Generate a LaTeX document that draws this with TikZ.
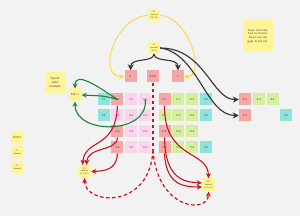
\documentclass[tikz,border=0pt]{standalone}
\usepackage{tikz}
\usetikzlibrary{arrows.meta, positioning}
\definecolor{bggray}{RGB}{242, 242, 242}
\definecolor{cellred}{RGB}{246, 166, 166}
\definecolor{cellpink}{RGB}{252, 212, 238}
\definecolor{cellgreen}{RGB}{214, 238, 160}
\definecolor{cellcyan}{RGB}{140, 228, 220}
\definecolor{noteyellow}{RGB}{255, 244, 150}
\definecolor{linered}{RGB}{200, 20, 30}
\definecolor{linegreen}{RGB}{30, 130, 60}
\definecolor{lineyellow}{RGB}{250, 215, 70}
\definecolor{linedark}{RGB}{50, 50, 50}

\begin{document}
\begin{tikzpicture}[
    x=1pt, y=-1pt,
    cell/.style={rectangle, minimum width=12pt, minimum height=12pt, inner sep=0pt, font=\sffamily\fontsize{3}{3.6}\selectfont, text=black!75},
    redcell/.style={cell, fill=cellred},
    pinkcell/.style={cell, fill=cellpink},
    greencell/.style={cell, fill=cellgreen},
    cyancell/.style={cell, fill=cellcyan},
    note/.style={rectangle, fill=noteyellow, minimum width=12pt, minimum height=12pt, inner sep=0.5pt, align=center, font=\sffamily\fontsize{2.2}{2.6}\selectfont, text=black!75},
    yellowarrow/.style={-{Stealth[length=5pt, width=5pt]}, line width=0.9pt, color=lineyellow},
    darkarrow/.style={-{Stealth[length=6pt, width=6pt]}, line width=1.1pt, color=linedark},
    greenarrow/.style={-{Stealth[length=5pt, width=5pt]}, line width=1.1pt, color=linegreen},
    redarrow/.style={-{Stealth[length=5pt, width=5pt]}, line width=1.1pt, color=linered},
    reddash/.style={line width=1.2pt, color=linered, dash pattern=on 3.5pt off 2.5pt},
    reddasharrow/.style={reddash, -{Stealth[length=5pt, width=5pt]}}
]
    \useasboundingbox[fill=bggray] (0,0) rectangle (300,216);

    % Notes
    \node[note] (y2) at (154,15) {Y2\\channel\\(19/30)};
    \node[note] (ic) at (154,48) {IC\\channel\\(15/7)};
    \node[note, minimum width=30pt, minimum height=33pt, font=\sffamily\fontsize{3}{3.8}\selectfont] (team) at (258,36) {Team channels,\\free to choose.\\Don't use the\\gaps in the list.};
    \node[note, minimum width=21pt, minimum height=21pt, font=\sffamily\fontsize{3.2}{4}\selectfont] (squad) at (55,83) {Squad\\radio\\example};
    \node[note, minimum width=13pt, minimum height=13pt, font=\sffamily\fontsize{2.8}{3.4}\selectfont] (sqh) at (75,95) {SQH.1};
    \node[note, font=\sffamily\fontsize{2.8}{3.4}\selectfont] (sqr) at (17,137.5) {SQR.2};
    \node[note] (cone) at (17,152.5) {C1\\channel};
    \node[note] (ctwo) at (17,167.5) {C2\\channel};
    \node[note, minimum width=13pt, minimum height=13pt] (rone) at (84.5,171.5) {R1\\channel\\(4.3/4.4)};
    \node[note, minimum width=13pt, minimum height=13pt] (rtwo) at (208.5,185) {R2\\channel\\(5.3/5.4)};

    % Top row
    \node[redcell] (six) at (130.5,76.5) {6};
    \node[redcell] (rto) at (153,76.5) {RTO};
    \node[redcell] (seven) at (178,76.5) {7};

    % Group 4
    \node[cyancell] (va) at (103.5,99.5) {V1};
    \node[redcell, right=1.5pt of va] (fa) {4.1};
    \node[pinkcell, right=1.5pt of fa] (fb) {4.1};
    \node[pinkcell, right=1.5pt of fb] (fc) {4.1};
    \node[cyancell, below=3.5pt of va] (vb) {V2};
    \node[pinkcell, below=3.5pt of fa] (fd) {4.2};
    \node[pinkcell, below=3.5pt of fb] (fe) {4.2};
    \node[pinkcell, below=3.5pt of fc] (ff) {4.2};
    \node[redcell, below=3.5pt of fd] (fg) {4.3};
    \node[pinkcell, below=3.5pt of fe] (fh) {4.3};
    \node[pinkcell, below=3.5pt of ff] (fi) {4.3};
    \node[redcell, below=3.5pt of fg] (fj) {4.4};
    \node[pinkcell, below=3.5pt of fh] (fk) {4.4};
    \node[pinkcell, below=3.5pt of fi] (fl) {4.4};

    % Group 5
    \node[redcell] (ga) at (164.5,99.5) {5.1};
    \node[greencell, right=1.5pt of ga] (gb) {5.1};
    \node[greencell, right=1.5pt of gb] (gc) {5.1};
    \node[cyancell, right=1.5pt of gc] (vc) {V3};
    \node[greencell, below=3.5pt of ga] (gd) {5.2};
    \node[greencell, below=3.5pt of gb] (ge) {5.2};
    \node[greencell, below=3.5pt of gc] (gf) {5.2};
    \node[cyancell, below=3.5pt of vc] (vd) {V4};
    \node[redcell, below=3.5pt of gd] (gg) {5.3};
    \node[greencell, below=3.5pt of ge] (gh) {5.3};
    \node[greencell, below=3.5pt of gf] (gi) {5.3};
    \node[redcell, below=3.5pt of gg] (gj) {5.4};
    \node[greencell, below=3.5pt of gh] (gk) {5.4};
    \node[greencell, below=3.5pt of gi] (gl) {5.4};
    \node[cyancell, right=1.5pt of gl] (ve) {V5};

    % Group 6
    \node[redcell] (ha) at (245,99.5) {6.1};
    \node[greencell, right=1.5pt of ha] (hb) {6.1};
    \node[greencell, right=1.5pt of hb] (hc) {6.1};
    \node[redcell, below=3.5pt of ha] (hd) {6.2};
    \node[cyancell] (vf) at (286,115) {V6};

    \coordinate (split) at (153,150);

    % Yellow links
    \draw[yellowarrow] (y2.west) .. controls (112,20) and (98,77) .. (six.west);
    \draw[yellowarrow] (y2.east) .. controls (192,20) and (205,77) .. (seven.east);

    % Dark links
    \draw[darkarrow] (ic.south) .. controls (153,63) and (131,57) .. (six.north);
    \draw[darkarrow] (ic.south) .. controls (155,63) and (178,57) .. (seven.north);
    \draw[darkarrow] (ic.east) .. controls (205,48) and (212,100) .. (ha.west);
    \draw[darkarrow] (ic.east) .. controls (198,53) and (206,116) .. (hd.west);

    % Green links
    \draw[greenarrow] (fa.center) .. controls (105,96) .. (sqh.east);
    \draw[greenarrow] (fa.center) .. controls (100,88) and (75,70) .. (sqh.north);
    \draw[greenarrow] (fc.center) .. controls (149,135) and (75,135) .. (sqh.south);

    % Red links
    \draw[redarrow] (fa.south) .. controls (116,150) and (85,138) .. ([xshift=-2pt]rone.north);
    \draw[redarrow] (fg.south) .. controls (117,152) and (88,146) .. ([xshift=2pt]rone.north);
    \draw[redarrow] (fj.south) .. controls (117,170) and (104,171) .. (rone.east);
    \draw[redarrow] (ga.south) .. controls (164,160) and (208,150) .. (rtwo.north);
    \draw[redarrow] (gg.south) .. controls (165,180) and (185,182) .. ([yshift=2pt]rtwo.west);
    \draw[redarrow] (gj.south) .. controls (166,186) and (185,187) .. ([yshift=-2pt]rtwo.west);

    % RTO dashed
    \draw[reddash] (rto.south) -- (split);
    \draw[reddasharrow] (split) .. controls (150,210) and (85,205) .. (rone.south);
    \draw[reddasharrow] (split) .. controls (157,210) and (208,214) .. (rtwo.south);
\end{tikzpicture}
\end{document}
